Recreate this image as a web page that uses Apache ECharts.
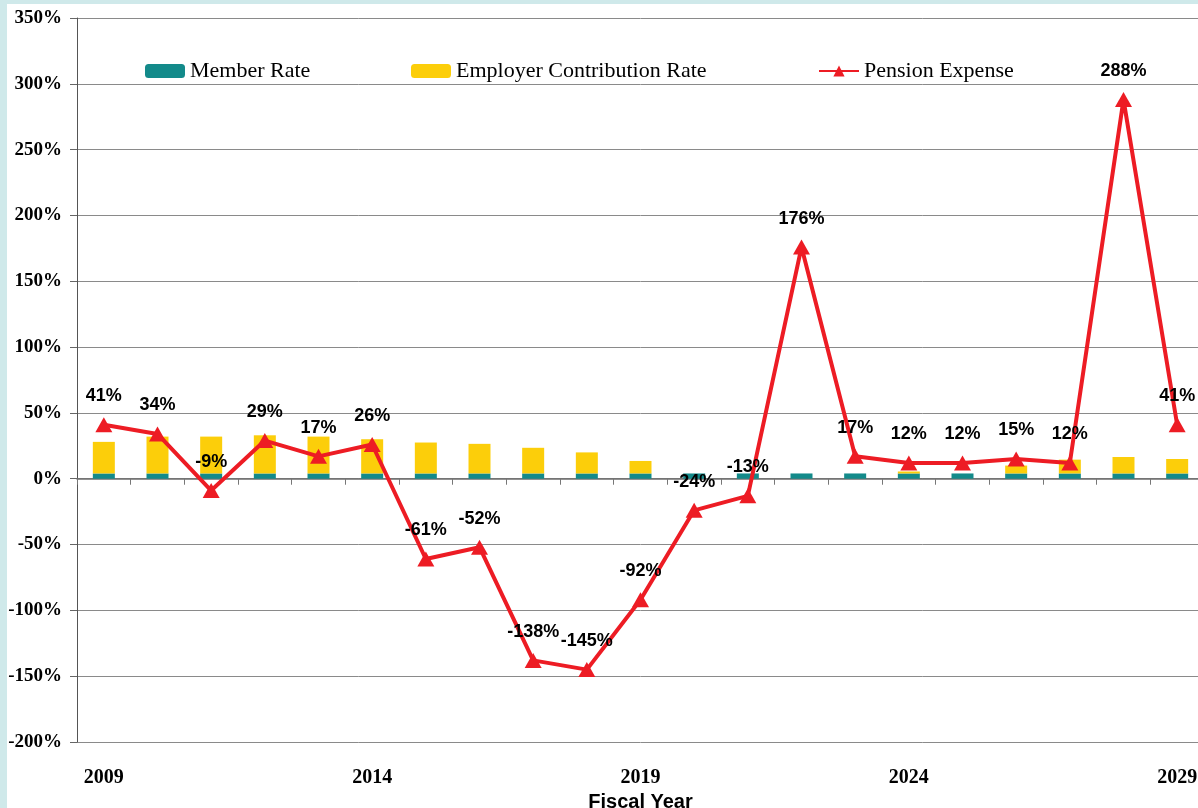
<!DOCTYPE html>
<html>
<head>
<meta charset="utf-8">
<script src="https://cdn.jsdelivr.net/npm/echarts@6/dist/echarts.min.js"></script>
<style>
html,body{margin:0;padding:0;width:1198px;height:808px;overflow:hidden;background:#cfe9ea;}
#chart{position:absolute;left:7px;top:4px;width:1200px;height:804px;background:#ffffff;}
</style>
</head>
<body>
<div id="chart"></div>
<script>
const years = ['2009','2010','2011','2012','2013','2014','2015','2016','2017','2018','2019','2020','2021','2022','2023','2024','2025','2026','2027','2028','2029'];
const memberRate = [4,4,4,4,4,4,4,4,4,4,4,4,4,4,4,4,4,4,4,4,4];
const employerRate = [24,28,28,29,28,26,23.5,22.5,19.5,16,9.5,0,0,0,0,1.5,0,6,10.5,12.5,11];
const pensionExpense = [41,34,-9,29,17,26,-61,-52,-138,-145,-92,-24,-13,176,17,12,12,15,12,288,41];

const chart = echarts.init(document.getElementById('chart'));
const serif = 'Liberation Serif';
const legendText = {fontFamily: serif, fontSize: 22, color: '#000'};
chart.setOption({
  animation: false,
  backgroundColor: '#ffffff',
  legend: [
    {data: ['Member Rate'], left: 133, top: 51, itemWidth: 40, itemHeight: 14, textStyle: legendText},
    {data: ['Employer Contribution Rate'], left: 399, top: 51, itemWidth: 40, itemHeight: 14, textStyle: legendText},
    {data: ['Pension Expense'], left: 806, top: 51, itemWidth: 40, itemHeight: 14, textStyle: legendText}
  ],
  grid: {left: 70, right: 3, top: 14, bottom: 66, containLabel: false, outerBoundsMode: 'none'},
  xAxis: {
    type: 'category',
    data: years,
    boundaryGap: true,
    name: 'Fiscal Year',
    nameLocation: 'middle',
    nameGap: 47,
    nameTextStyle: {fontFamily: 'Liberation Sans', fontWeight: 'bold', fontSize: 20, color: '#000'},
    axisLine: {lineStyle: {color: '#6e6e6e', width: 1.5}},
    axisTick: {show: true, interval: 0, length: 6, lineStyle: {color: '#777'}},
    axisLabel: {interval: 4, margin: 26, fontFamily: serif, fontWeight: 'bold', fontSize: 20, color: '#000'},
    splitLine: {show: false}
  },
  yAxis: {
    type: 'value',
    min: -200,
    max: 350,
    interval: 50,
    axisLine: {show: true, lineStyle: {color: '#555', width: 1}},
    axisTick: {show: true, length: 7, lineStyle: {color: '#666'}},
    axisLabel: {formatter: '{value}%', margin: 15, fontFamily: serif, fontWeight: 'bold', fontSize: 19, color: '#000'},
    splitLine: {show: true, lineStyle: {color: '#8a8a8a', width: 1}}
  },
  series: [
    {name: 'Member Rate', type: 'bar', stack: 'rate', data: memberRate, barWidth: 22, itemStyle: {color: '#138a8a'}},
    {name: 'Employer Contribution Rate', type: 'bar', stack: 'rate', data: employerRate, barWidth: 22, itemStyle: {color: '#fcce0a'}},
    {
      name: 'Pension Expense', type: 'line', data: pensionExpense,
      symbol: 'triangle', symbolSize: [17, 15],
      lineStyle: {color: '#ed1c24', width: 4},
      itemStyle: {color: '#ed1c24'},
      label: {show: true, position: 'top', distance: 12, formatter: '{c}%', fontFamily: 'Liberation Sans', fontWeight: 'bold', fontSize: 18, color: '#000'},
      z: 5
    }
  ]
});
</script>
</body>
</html>
